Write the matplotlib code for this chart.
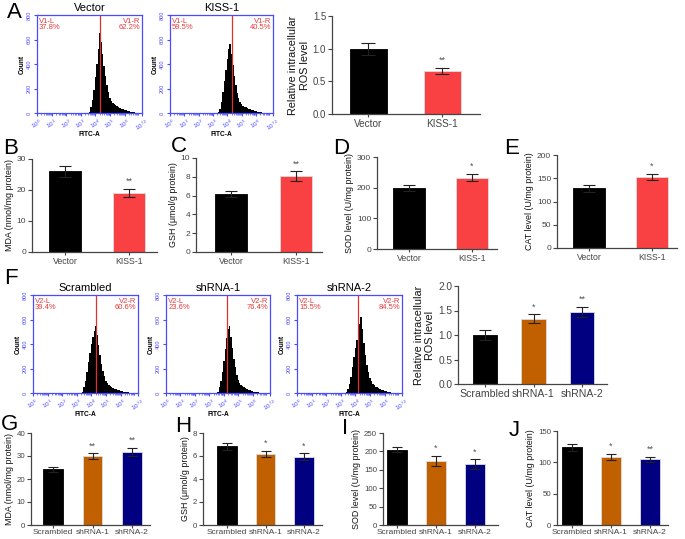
import numpy as np
import matplotlib
matplotlib.use("Agg")
import matplotlib.pyplot as plt

plt.rcParams["font.family"] = ["Liberation Sans", "DejaVu Sans"]
plt.rcParams["mathtext.fontset"] = "custom"
plt.rcParams["mathtext.rm"] = "Liberation Sans"

W, H = 685, 539

# ---- data ----
two_groups = ["Vector", "KISS-1"]
three_groups = ["Scrambled", "shRNA-1", "shRNA-2"]

ros_a = [1.0, 0.66]
ros_a_err = [0.09, 0.05]
mda_b = [26.0, 19.0]
mda_b_err = [1.8, 1.4]
gsh_c = [6.2, 8.1]
gsh_c_err = [0.3, 0.5]
sod_d = [200, 233]
sod_d_err = [10, 12]
cat_e = [128, 153]
cat_e_err = [7, 7]

ros_f = [1.0, 1.33, 1.47]
ros_f_err = [0.1, 0.09, 0.1]
mda_g = [24.2, 30.0, 31.7]
mda_g_err = [1.0, 1.2, 1.8]
gsh_h = [6.85, 6.2, 5.95]
gsh_h_err = [0.3, 0.25, 0.3]
sod_i = [205, 174, 165]
sod_i_err = [7, 14, 13]
cat_j = [124, 109, 105]
cat_j_err = [6, 5, 4]

# histogram bins (log10 FITC-A) and counts
log_bins = np.arange(3.3, 7.05, 0.1)
hist_vector = [0, 0, 0, 10, 50, 110, 190, 290, 400, 520, 650, 580, 480, 380, 300, 230, 170, 125, 95,
               80, 70, 62, 55, 48, 42, 36, 31, 26, 22, 18, 15, 12, 9, 7, 5, 3, 2, 1]
hist_kiss = [0, 5, 35, 90, 170, 260, 350, 440, 520, 560, 480, 390, 300, 225, 165, 120, 90, 72, 60,
             52, 45, 39, 34, 29, 25, 21, 17, 14, 11, 9, 7, 5, 4, 3, 2, 1, 0, 0]
hist_scr = [0, 10, 45, 100, 170, 250, 330, 400, 460, 510, 545, 470, 390, 310, 240, 180, 135, 100, 80,
            66, 56, 48, 42, 36, 31, 26, 22, 18, 14, 11, 9, 7, 5, 3, 2, 1, 0, 0]
hist_sh1 = [0, 0, 0, 10, 45, 100, 170, 260, 360, 450, 520, 545, 460, 370, 280, 210, 150, 110, 85,
            68, 56, 47, 40, 34, 28, 23, 19, 15, 12, 9, 7, 5, 4, 3, 2, 1, 0, 0]
hist_sh2 = [0, 5, 30, 70, 130, 210, 290, 370, 430, 490, 560, 618, 520, 410, 310, 230, 170, 125, 95,
            76, 63, 53, 45, 38, 32, 26, 21, 17, 13, 10, 8, 6, 4, 3, 2, 1, 0, 0]

gates = [4.32, 4.36, 4.3, 4.2, 4.16]
gate_names = ["V1", "V1", "V2", "V2", "V2"]
gate_left = ["37.8%", "59.5%", "39.4%", "23.6%", "15.5%"]
gate_right = ["62.2%", "40.5%", "60.6%", "76.4%", "84.5%"]
hist_titles = ["Vector", "KISS-1", "Scrambled", "shRNA-1", "shRNA-2"]

BLACK = "#000000"
RED = "#f94144"
ORANGE = "#c06000"
NAVY = "#000080"
BLUE = "#4a4aff"
GREY = "#444444"

fig = plt.figure(figsize=(W / 100, H / 100), dpi=100)


def px_axes(l, t, r, b):
    return fig.add_axes([l / W, 1 - b / H, (r - l) / W, (b - t) / H])


def hist_panel(box, counts, gate, gname, lpct, rpct, title):
    ax = px_axes(*box)
    ax.fill_between(log_bins, counts, step="mid", color="black", lw=0)
    ax.axvline(gate, color="#e03030", lw=0.9)
    ax.set_xlim(0, 7.2)
    ax.set_ylim(0, 800)
    for s in ax.spines.values():
        s.set_color(BLUE)
        s.set_linewidth(0.9)
    ax.set_xticks([0, 1, 2, 3, 4, 5, 6, 7.2])
    ax.set_xticklabels([r"$10^{%s}$" % k for k in ["0", "1", "2", "3", "4", "5", "6", "7.2"]],
                       rotation=30, fontsize=4.5, color=BLUE)
    minors = [np.log10(m) + e for e in range(7) for m in range(2, 10)]
    ax.set_xticks(minors, minor=True)
    ax.set_yticks([0, 200, 400, 600, 800])
    ax.set_yticklabels(["0", "200", "400", "600", "800"], rotation=90, fontsize=4,
                       color=BLUE, va="center")
    ax.tick_params(axis="both", which="both", colors=BLUE, length=2.5, width=0.8, pad=1)
    ax.tick_params(axis="x", which="minor", length=1.5, width=0.5)
    ax.tick_params(axis="x", which="major", pad=0.5)
    ax.set_xlabel("FITC-A", fontsize=4.8, fontweight="bold", labelpad=-1.5)
    ax.set_ylabel("Count", fontsize=4.8, fontweight="bold", labelpad=1)
    ax.text(0.02, 0.97, gname + "-L\n" + lpct, transform=ax.transAxes, color="#e83a3a",
            fontsize=5.5, va="top", ha="left", linespacing=0.9)
    ax.text(0.98, 0.97, gname + "-R\n" + rpct, transform=ax.transAxes, color="#e83a3a",
            fontsize=5.5, va="top", ha="right", linespacing=0.9)
    ax.set_title(title, fontsize=8, pad=3)


def bar_panel(box, centers, labels, vals, errs, colors, ymax, ystep, ylabel, stars,
              tick_fs=6.3, ylab_fs=6.4, yfmt="{:g}", cap=4.5, xpad=1.2):
    l, t, r, b = box
    ax = px_axes(l, t, r, b)
    n = len(vals)
    s = (centers[-1] - centers[0]) / (n - 1)
    x = np.arange(n)
    ax.bar(x, vals, width=0.5, color=colors, edgecolor=["black"] + ["#dddddd"] * (n - 1),
           linewidth=0.6, zorder=2)
    ax.errorbar(x, vals, yerr=errs, fmt="none", ecolor="#222222", elinewidth=0.8,
                capsize=cap, capthick=0.8, zorder=3)
    for i, st in enumerate(stars):
        if st:
            ax.text(i, vals[i] + errs[i] + ymax * 0.03, st, ha="center", va="bottom",
                    fontsize=6.5, color="#555555")
    ax.set_xlim((l - centers[0]) / s, (r - centers[0]) / s)
    ax.set_ylim(0, ymax)
    ticks = np.arange(0, ymax + ystep / 2, ystep)
    ax.set_yticks(ticks)
    ax.set_yticklabels([yfmt.format(v) for v in ticks], fontsize=tick_fs - 0.3, color=GREY)
    ax.set_xticks(x)
    ax.set_xticklabels(labels, fontsize=tick_fs, color="#111111")
    ax.spines["top"].set_visible(False)
    ax.spines["right"].set_visible(False)
    for sp in ["left", "bottom"]:
        ax.spines[sp].set_color(GREY)
        ax.spines[sp].set_linewidth(0.9)
    ax.tick_params(axis="both", colors=GREY, length=3, width=0.8, pad=1.2)
    ax.tick_params(axis="x", length=2.5, pad=xpad)
    ax.set_ylabel(ylabel, fontsize=ylab_fs, color="#111111", labelpad=2)
    return ax


# ---- histograms (A and F) ----
hist_boxes = [(37, 15, 142, 113), (170, 15, 273, 113),
              (33, 295, 138, 393), (166, 295, 270, 393), (297, 295, 402, 393)]
all_hists = [hist_vector, hist_kiss, hist_scr, hist_sh1, hist_sh2]
for i in range(5):
    hist_panel(hist_boxes[i], all_hists[i], gates[i], gate_names[i], gate_left[i],
               gate_right[i], hist_titles[i])

bar_panel((332, 16, 480, 114), [368, 442], two_groups, ros_a, ros_a_err, [BLACK, RED],
          1.5, 0.5, "Relative intracellular\nROS level", ["", "**"], tick_fs=7.2,
          ylab_fs=7.8, yfmt="{:.1f}", cap=5)

# ---- row B-E ----
bar_panel((32, 159, 157, 252), [65, 129], two_groups, mda_b, mda_b_err, [BLACK, RED],
          30, 10, "MDA (nmol/mg protein)", ["", "**"])
bar_panel((196, 158, 322, 252), [231, 296], two_groups, gsh_c, gsh_c_err, [BLACK, RED],
          10, 2, "GSH (\u03bcmol/g protein)", ["", "**"])
bar_panel((377, 157, 497, 249), [409, 472], two_groups, sod_d, sod_d_err, [BLACK, RED],
          300, 100, "SOD level (U/mg protein)", ["", "*"])
bar_panel((557, 155, 677, 248), [589, 652], two_groups, cat_e, cat_e_err, [BLACK, RED],
          200, 50, "CAT level (U/mg protein)", ["", "*"])

# ---- panel F bars ----
bar_panel((458, 286, 607, 384), [485, 534, 582], three_groups, ros_f, ros_f_err,
          [BLACK, ORANGE, NAVY], 2.0, 0.5, "Relative intracellular\nROS level",
          ["", "*", "**"], tick_fs=7.6, ylab_fs=7.8, yfmt="{:.1f}")

# ---- row G-J ----
c3 = [BLACK, ORANGE, NAVY]
bar_panel((31, 433, 150, 525), [53, 93, 132], three_groups, mda_g, mda_g_err, c3,
          40, 10, "MDA (nmol/mg protein)", ["", "**", "**"], tick_fs=6.0, cap=3.5, xpad=0.6)
bar_panel((203, 433, 322, 525), [227, 266, 304], three_groups, gsh_h, gsh_h_err, c3,
          8, 2, "GSH (\u03bcmol/g protein)", ["", "*", "*"], tick_fs=6.0, cap=3.5, xpad=0.6)
bar_panel((383, 433, 498, 525), [397, 437, 475], three_groups, sod_i, sod_i_err, c3,
          250, 50, "SOD level (U/mg protein)", ["", "*", "*"], tick_fs=6.0, cap=3.5, xpad=0.6)
bar_panel((557, 431, 668, 525), [572, 610, 650], three_groups, cat_j, cat_j_err, c3,
          150, 50, "CAT level (U/mg protein)", ["", "*", "**"], tick_fs=6.0, cap=3.5, xpad=0.6)

# ---- panel letters ----
letters = {"A": (14, 13), "B": (11, 149), "C": (179, 146), "D": (341, 149), "E": (512, 149),
           "F": (11, 278), "G": (9, 424), "H": (183, 427), "I": (345, 428), "J": (514, 430)}
for k, (x, y) in letters.items():
    fig.text(x / W, 1 - y / H, k, fontsize=16, ha="center", va="center")

fig.savefig("out.png", dpi=100)
